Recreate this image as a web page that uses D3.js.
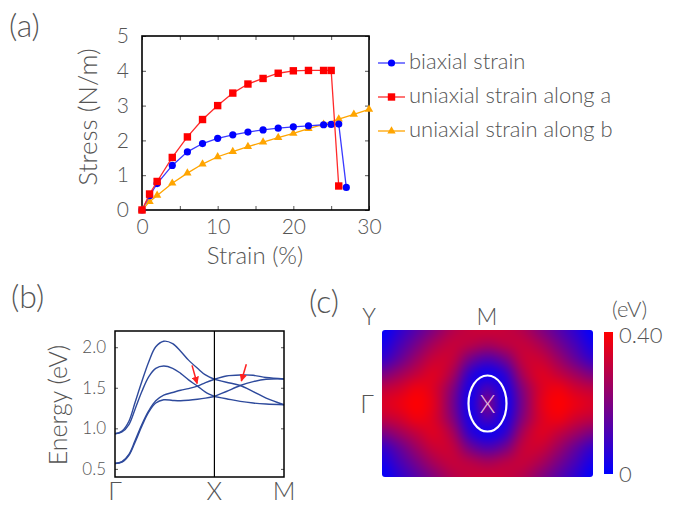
<!DOCTYPE html>
<html><head><meta charset="utf-8">
<script src="https://cdn.jsdelivr.net/npm/d3@7/dist/d3.min.js"></script>
<style>
body{margin:0;background:#fff}
svg text{font-family:Lato,"Open Sans",sans-serif;font-weight:300;fill:#555}
</style>
</head><body>
<svg id="chart" width="675" height="506"></svg>
<script>
// ---------- Panel (a) data ----------
const biaxialStrain = [0,1,2,4,6,8,10,12,14,16,18,20,22,24,25,26,27];
const biaxialStress = [0,0.41,0.76,1.28,1.67,1.91,2.06,2.16,2.24,2.30,2.35,2.39,2.42,2.45,2.46,2.47,0.65];
const uniAStrain = [0,1,2,4,6,8,10,12,14,16,18,20,22,24,25,26];
const uniAStress = [0,0.46,0.82,1.51,2.10,2.60,3.00,3.36,3.62,3.78,3.93,4.00,4.01,4.01,4.01,0.69];
const uniBStrain = [0,1,2,4,6,8,10,12,14,16,18,20,22,24,26,28,30];
const uniBStress = [0,0.24,0.42,0.77,1.06,1.32,1.53,1.68,1.82,1.95,2.08,2.20,2.34,2.46,2.61,2.75,2.89];
const seriesNames = ["biaxial strain","uniaxial strain along a","uniaxial strain along b"];
const stressTicks = [0,1,2,3,4,5];
const strainTicks = [0,5,10,15,20,25,30];
const strainLabels = [0,10,20,30];

// ---------- Panel (b) data ----------
const kGX = [0,0.07,0.14,0.2,0.27,0.34,0.41,0.49,0.58,0.66,0.74,0.83,0.91,1.0];
const kXM = [1.0,1.12,1.26,1.39,1.52,1.7];
const bandA_GX = [0.933,0.966,1.088,1.312,1.577,1.822,2.005,2.074,2.045,1.951,1.841,1.740,1.658,1.605];
const bandB_GX = [0.933,0.955,1.047,1.230,1.454,1.638,1.740,1.768,1.740,1.678,1.597,1.520,1.446,1.393];
const bandC_GX = [0.566,0.590,0.680,0.843,1.047,1.218,1.340,1.410,1.442,1.470,1.490,1.520,1.564,1.605];
const bandD_GX = [0.566,0.582,0.668,0.823,1.027,1.202,1.312,1.352,1.344,1.340,1.346,1.358,1.372,1.393];
const bandA_XM = [1.605,1.646,1.658,1.654,1.626,1.609];
const bandB_XM = [1.393,1.454,1.528,1.576,1.605,1.609];
const bandC_XM = [1.605,1.568,1.528,1.454,1.373,1.291];
const bandD_XM = [1.393,1.365,1.332,1.312,1.300,1.291];
const energyTicks = [0.5,1.0,1.5,2.0];
const kPoints = [0,1,1.7];
const kLabels = ["Γ","X","M"];
const arrowStarts = [[0.775,1.776],[1.321,1.789]];
const arrowEnds = [[0.826,1.553],[1.271,1.584]];

// ---------- Panel (c) data (eV), rows top->bottom, cols left->right ----------
const gapGrid = [
 [0.00,0.07,0.14,0.21,0.28,0.31,0.32,0.31,0.28,0.21,0.14,0.07,0.00],
 [0.03,0.11,0.19,0.27,0.31,0.29,0.26,0.29,0.31,0.27,0.19,0.11,0.03],
 [0.08,0.16,0.25,0.32,0.31,0.18,0.12,0.18,0.31,0.32,0.25,0.16,0.08],
 [0.19,0.25,0.31,0.35,0.27,0.07,0.02,0.07,0.27,0.35,0.31,0.25,0.19],
 [0.30,0.33,0.38,0.34,0.21,0.03,0.12,0.03,0.21,0.34,0.38,0.33,0.30],
 [0.34,0.37,0.40,0.35,0.19,0.02,0.20,0.02,0.19,0.35,0.40,0.37,0.34],
 [0.30,0.33,0.38,0.34,0.21,0.03,0.12,0.03,0.21,0.34,0.38,0.33,0.30],
 [0.19,0.25,0.31,0.35,0.27,0.07,0.02,0.07,0.27,0.35,0.31,0.25,0.19],
 [0.08,0.16,0.25,0.32,0.31,0.18,0.12,0.18,0.31,0.32,0.25,0.16,0.08],
 [0.03,0.11,0.19,0.27,0.31,0.29,0.26,0.29,0.31,0.27,0.19,0.11,0.03],
 [0.00,0.07,0.14,0.21,0.28,0.31,0.32,0.31,0.28,0.21,0.14,0.07,0.00]
];
const gapRange = [0,0.40];
const gapTickLabels = ["0","0.40"];

const svg = d3.select("#chart");

// ================= Panel (a) =================
const xa = d3.scaleLinear().domain([0,30]).range([142,369]);
const ya = d3.scaleLinear().domain([0,5]).range([210,36]);
const ga = svg.append("g");

ga.append("g").attr("transform","translate(142,0)")
  .call(d3.axisLeft(ya).tickValues(stressTicks).tickSize(-4).tickPadding(13).tickFormat(d3.format("d")));
ga.append("g").attr("transform","translate(369,0)")
  .call(d3.axisRight(ya).tickValues(stressTicks).tickSize(-4).tickFormat(""));
ga.append("g").attr("transform","translate(0,210)")
  .call(d3.axisBottom(xa).tickValues(strainTicks).tickSize(-4).tickPadding(9)
   .tickFormat(d => strainLabels.includes(d) ? d : ""));
ga.append("g").attr("transform","translate(0,36)")
  .call(d3.axisTop(xa).tickValues(strainTicks).tickSize(-4).tickFormat(""));
ga.selectAll(".domain").remove();
ga.selectAll(".tick line").attr("stroke","#555").attr("stroke-width",1);
ga.selectAll(".tick text").style("font-size","21px").attr("fill","#555");
ga.append("rect").attr("x",142).attr("y",36).attr("width",227).attr("height",174)
  .attr("fill","none").attr("stroke","#000").attr("stroke-width",1.6);

const lineA = d3.line().x(d=>xa(d[0])).y(d=>ya(d[1]));
const colors = ["#0000ff","#ff0000","#ffa500"];
const lineColors = ["#3a3aff","#ff2a2a","#ffa500"];
const sets = [
  d3.zip(biaxialStrain,biaxialStress),
  d3.zip(uniAStrain,uniAStress),
  d3.zip(uniBStrain,uniBStress)
];
function marker(g, type, x, y, col){
  if(type===0) g.append("circle").attr("cx",x).attr("cy",y).attr("r",3.6).attr("fill",col);
  else if(type===1) g.append("rect").attr("x",x-3.7).attr("y",y-3.7).attr("width",7.4).attr("height",7.4).attr("fill",col);
  else g.append("path").attr("d",d3.symbol(d3.symbolTriangle,30)()).attr("transform",`translate(${x},${y})`).attr("fill",col);
}
[2,0,1].forEach(i=>{
  ga.append("path").datum(sets[i]).attr("d",lineA).attr("fill","none")
    .attr("stroke",lineColors[i]).attr("stroke-width",1.3);
  sets[i].forEach(p=>marker(ga,i,xa(p[0]),ya(p[1]),colors[i]));
});

// legend
const legY = [63,97,131];
seriesNames.forEach((n,i)=>{
  ga.append("line").attr("x1",378).attr("x2",405).attr("y1",legY[i]).attr("y2",legY[i])
    .attr("stroke",lineColors[i]).attr("stroke-width",1.3);
  marker(ga,i,391.5,legY[i],colors[i]);
  ga.append("text").attr("x",409).attr("y",legY[i]+6).style("font-size","22px").text(n);
});

ga.append("text").attr("x",9).attr("y",37).style("font-size","32px").text("(a)");
ga.append("text").attr("transform","translate(97,117) rotate(-90)").attr("text-anchor","middle")
  .style("font-size","26px").text("Stress (N/m)");
ga.append("text").attr("x",255).attr("y",264).attr("text-anchor","middle")
  .style("font-size","24px").text("Strain (%)");

// ================= Panel (b) =================
const xb = d3.scaleLinear().domain([0,1.7]).range([115,284]);
const yb = d3.scaleLinear().domain([0.4,2.2]).range([477,331]);
const gb = svg.append("g");
gb.append("g").attr("transform","translate(115,0)")
  .call(d3.axisLeft(yb).tickValues(energyTicks).tickSize(-3).tickPadding(9).tickFormat(d3.format(".1f")));
gb.append("g").attr("transform","translate(284,0)")
  .call(d3.axisRight(yb).tickValues(energyTicks).tickSize(-3).tickFormat(""));
gb.selectAll(".domain").remove();
gb.selectAll(".tick line").attr("stroke","#555");
gb.selectAll(".tick text").style("font-size","17px");

const lineB = d3.line().x(d=>xb(d[0])).y(d=>yb(d[1])).curve(d3.curveCatmullRom.alpha(0.5));
[bandA_GX,bandB_GX,bandC_GX,bandD_GX].forEach(b=>{
  gb.append("path").datum(d3.zip(kGX,b)).attr("d",lineB).attr("fill","none")
    .attr("stroke","#2e4a9c").attr("stroke-width",1.4);
});
[bandA_XM,bandB_XM,bandC_XM,bandD_XM].forEach(b=>{
  gb.append("path").datum(d3.zip(kXM,b)).attr("d",lineB).attr("fill","none")
    .attr("stroke","#2e4a9c").attr("stroke-width",1.4);
});
gb.append("line").attr("x1",xb(1)).attr("x2",xb(1)).attr("y1",331).attr("y2",477)
  .attr("stroke","#000").attr("stroke-width",1.2);
gb.append("rect").attr("x",115).attr("y",331).attr("width",169).attr("height",146)
  .attr("fill","none").attr("stroke","#000").attr("stroke-width",1.5);

// arrows
const defs = svg.append("defs");
defs.append("marker").attr("id","ah").attr("viewBox","0 0 10 10").attr("refX",9).attr("refY",5)
  .attr("markerWidth",5).attr("markerHeight",5).attr("orient","auto")
  .append("path").attr("d","M0,0 L10,5 L0,10 z").attr("fill","#ff2020");
arrowStarts.forEach((s,i)=>{
  const e = arrowEnds[i];
  gb.append("line").attr("x1",xb(s[0])).attr("y1",yb(s[1])).attr("x2",xb(e[0])).attr("y2",yb(e[1]))
    .attr("stroke","#ff2020").attr("stroke-width",1.5).attr("marker-end","url(#ah)");
});
kPoints.forEach((k,i)=>{
  gb.append("text").attr("x",xb(k)).attr("y",500).attr("text-anchor","middle")
    .style("font-size","25px").text(kLabels[i]);
});
gb.append("text").attr("transform","translate(67,405) rotate(-90)").attr("text-anchor","middle")
  .style("font-size","25px").text("Energy (eV)");
gb.append("text").attr("x",11).attr("y",308).style("font-size","32px").text("(b)");

// ================= Panel (c) =================
const gc = svg.append("g");
const colorScale = d3.scaleLinear().domain(gapRange).range(["#0000ff","#ff0000"]).interpolate(d3.interpolateRgb);
const nr = gapGrid.length, nc = gapGrid[0].length;
const cv = document.createElement("canvas");
cv.width = nc; cv.height = nr;
const ctx = cv.getContext("2d");
gapGrid.forEach((row,r)=>row.forEach((v,c)=>{
  ctx.fillStyle = colorScale(v); ctx.fillRect(c,r,1,1);
}));
const hx0=382, hx1=593, hy0=330, hy1=477;
const big = document.createElement("canvas");
big.width = hx1-hx0; big.height = hy1-hy0;
const bctx = big.getContext("2d");
bctx.imageSmoothingEnabled = true; bctx.imageSmoothingQuality = "high";
const sx = (hx1-hx0)/(nc-1), sy = (hy1-hy0)/(nr-1);
bctx.drawImage(cv, 0,0,nc,nr, -sx/2, -sy/2, sx*nc, sy*nr);
defs.append("clipPath").attr("id","hclip").append("rect")
  .attr("x",hx0).attr("y",hy0).attr("width",hx1-hx0).attr("height",hy1-hy0).attr("rx",3);
gc.append("image").attr("href",big.toDataURL()).attr("x",hx0).attr("y",hy0)
  .attr("width",hx1-hx0).attr("height",hy1-hy0).attr("preserveAspectRatio","none")
  .attr("clip-path","url(#hclip)");

const xc = d3.scaleLinear().domain([0,1]).range([hx0,hx1]);
const yc = d3.scaleLinear().domain([0,1]).range([hy0,hy1]);
gc.append("ellipse").attr("cx",xc(0.5)).attr("cy",yc(0.5)).attr("rx",19).attr("ry",28)
  .attr("fill","none").attr("stroke","#fff").attr("stroke-width",2.2);
gc.append("text").attr("x",xc(0.5)).attr("y",yc(0.5)+9).attr("text-anchor","middle")
  .style("font-size","25px").style("fill","#e6b8dc").text("X");

// colorbar
const cb = defs.append("linearGradient").attr("id","cbg").attr("x1",0).attr("x2",0).attr("y1",1).attr("y2",0);
cb.append("stop").attr("offset","0%").attr("stop-color",colorScale(gapRange[0]));
cb.append("stop").attr("offset","100%").attr("stop-color",colorScale(gapRange[1]));
gc.append("rect").attr("x",604).attr("y",332).attr("width",9).attr("height",142).attr("fill","url(#cbg)");
gc.append("text").attr("x",619).attr("y",343).style("font-size","22px").text(gapTickLabels[1]);
gc.append("text").attr("x",619).attr("y",482).style("font-size","22px").text(gapTickLabels[0]);
gc.append("text").attr("x",612).attr("y",317).style("font-size","22px").text("(eV)");
gc.append("text").attr("x",369).attr("y",325).attr("text-anchor","middle").style("font-size","23px").text("Y");
gc.append("text").attr("x",487).attr("y",325).attr("text-anchor","middle").style("font-size","23px").text("M");
gc.append("text").attr("x",367).attr("y",413).attr("text-anchor","middle").style("font-size","25px").text("Γ");
gc.append("text").attr("x",309).attr("y",313).style("font-size","32px").text("(c)");
</script>
</body></html>
